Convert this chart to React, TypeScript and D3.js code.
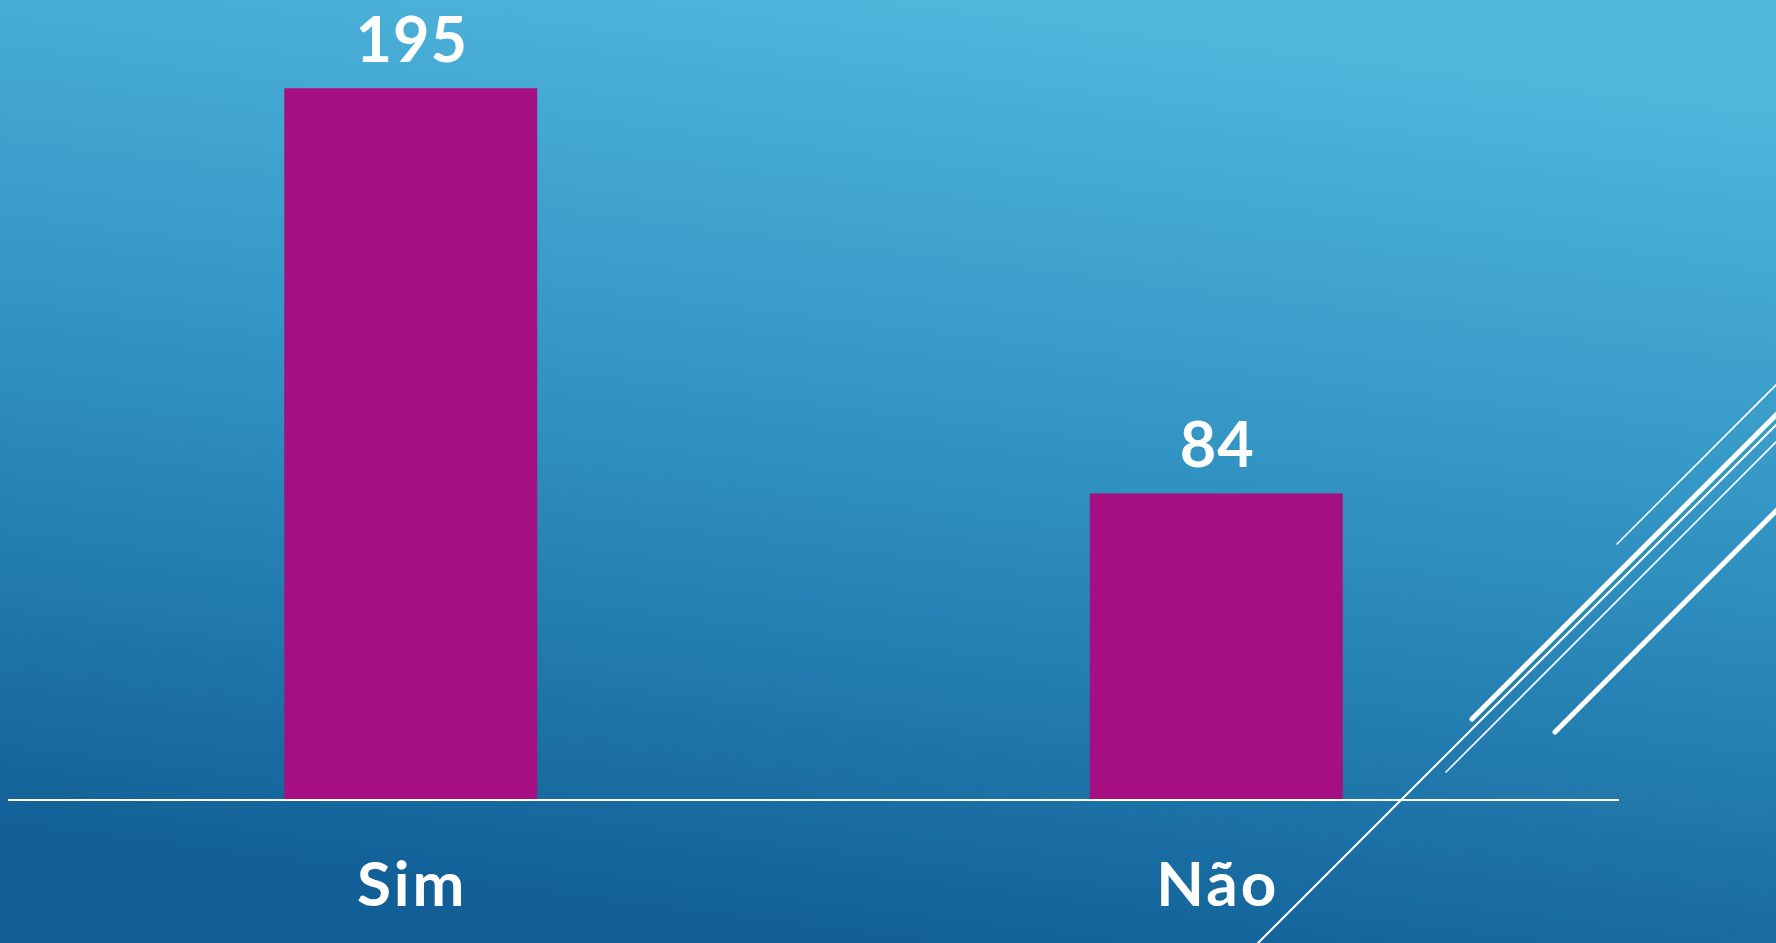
import React from "react";
import * as d3 from "d3";

const categories: string[] = ["Sim", "Não"];
const values: number[] = [195, 84];

const W = 1776;
const H = 943;

export default function App() {
  const x = d3
    .scaleBand<string>()
    .domain(categories)
    .range([8, 1619])
    .paddingInner(0.686)
    .paddingOuter(0.343);
  const y = d3.scaleLinear().domain([0, 200]).range([800, 70]);

  // decorative diagonal lines (x + y = c)
  const deco = [
    { c: 2161, x0: 1617, x1: 1800, w: 1.6 },
    { c: 2191, x0: 1472, x1: 1790, w: 5 },
    { c: 2201, x0: 1200, x1: 1800, w: 2 },
    { c: 2218, x0: 1446, x1: 1800, w: 1.6 },
    { c: 2287, x0: 1555, x1: 1800, w: 5 },
  ];

  const font = "Lato, 'Open Sans', 'DejaVu Sans', sans-serif";

  return (
    <svg
      width={W}
      height={H}
      style={{ position: "absolute", left: 0, top: 0, display: "block" }}
    >
      <defs>
        <linearGradient
          id="bg"
          gradientUnits="userSpaceOnUse"
          x1={830}
          y1={H}
          x2={950}
          y2={0}
        >
          <stop offset="0" stopColor="#115f96" />
          <stop offset="0.5" stopColor="#2f90c0" />
          <stop offset="1" stopColor="#4fb6dc" />
        </linearGradient>
      </defs>
      <rect x={0} y={0} width={W} height={H} fill="url(#bg)" />

      {categories.map((c, i) => (
        <rect
          key={c}
          x={x(c)}
          y={y(values[i])}
          width={x.bandwidth()}
          height={y(0) - y(values[i])}
          fill="#a50f82"
        />
      ))}

      <line x1={8} x2={1619} y1={y(0)} y2={y(0)} stroke="#ffffff" strokeWidth={2} />

      {deco.map((d, i) => (
        <line
          key={i}
          x1={d.x0}
          y1={d.c - d.x0}
          x2={d.x1}
          y2={d.c - d.x1}
          stroke="#ffffff"
          strokeWidth={d.w}
          strokeLinecap="round"
        />
      ))}

      {categories.map((c, i) => (
        <text
          key={"v" + c}
          x={(x(c) as number) + x.bandwidth() / 2 + 1}
          y={y(values[i]) - 26}
          textAnchor="middle"
          fill="#ffffff"
          fontFamily={font}
          fontWeight={700}
          fontSize={63}
          letterSpacing={1}
        >
          {values[i]}
        </text>
      ))}

      {categories.map((c) => (
        <text
          key={"c" + c}
          x={(x(c) as number) + x.bandwidth() / 2 + 1.5}
          y={906}
          textAnchor="middle"
          fill="#ffffff"
          fontFamily={font}
          fontWeight={700}
          fontSize={62}
          letterSpacing={3}
        >
          {c}
        </text>
      ))}
    </svg>
  );
}
